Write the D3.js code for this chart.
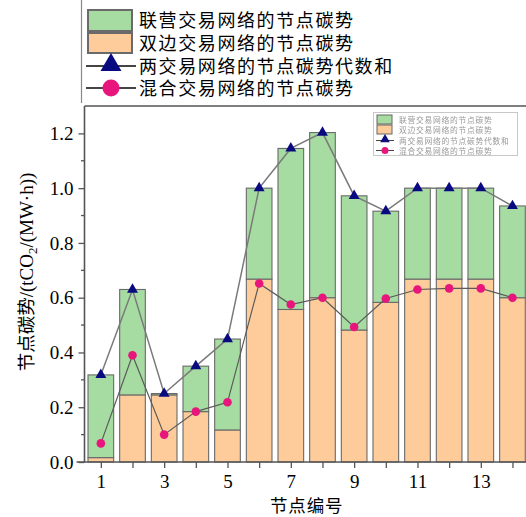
<!DOCTYPE html>
<html>
<head>
<meta charset="utf-8">
<script src="https://cdn.jsdelivr.net/npm/d3@7"></script>
<style>
  body { margin: 0; background: #fff; }
  svg { display: block; }
</style>
</head>
<body>
<svg id="chart" width="526" height="517"></svg>
<script>
// Node numbers on the x axis
const nodes = [1, 2, 3, 4, 5, 6, 7, 8, 9, 10, 11, 12, 13, 14];
// Bilateral-trading network node carbon potential (lower stack)
const bilateral = [0.016, 0.245, 0.245, 0.184, 0.117, 0.668, 0.557, 0.600, 0.482, 0.583, 0.668, 0.668, 0.668, 0.600];
// Pool-trading network node carbon potential (upper stack)
const pool = [0.302, 0.385, 0.005, 0.166, 0.332, 0.332, 0.588, 0.603, 0.490, 0.333, 0.332, 0.332, 0.332, 0.335];
// Mixed-trading network node carbon potential
const mixed = [0.068, 0.390, 0.100, 0.184, 0.218, 0.652, 0.575, 0.600, 0.493, 0.597, 0.630, 0.634, 0.634, 0.600];
// Axis ticks
const yMajorTicks = [0, 0.2, 0.4, 0.6, 0.8, 1.0, 1.2];
const yMinorTicks = [0.1, 0.3, 0.5, 0.7, 0.9, 1.1];
const xTickLabels = [1, 3, 5, 7, 9, 11, 13];
// Legend texts
const legendLabels = [
  "联营交易网络的节点碳势",
  "双边交易网络的节点碳势",
  "两交易网络的节点碳势代数和",
  "混合交易网络的节点碳势"
];

const COLORS = {
  pool: "#a6dca2",
  bilateral: "#fdcc9a",
  barStroke: "#6a6a6a",
  axis: "#555",
  sumLine: "#7a7a7a",
  mixLine: "#5a5a5a",
  tri: "#0a0a80",
  dot: "#e8167c"
};
const FONT = "'Liberation Serif', 'Noto Serif CJK SC', 'Noto Sans CJK SC', serif";
const CJK = "'Noto Sans CJK SC', sans-serif";

// Algebraic sum of the two stacked networks
const total = nodes.map((_, i) => bilateral[i] + pool[i]);

const svg = d3.select("#chart");
const plot = { left: 84.5, right: 528.3, top: 106, bottom: 462 };

const x = d3.scaleLinear().domain([0.5, 14.5]).range([plot.left + 0.5, plot.right]);
const y = d3.scaleLinear().domain([0, 1.3]).range([plot.bottom, plot.top]);
const step = x(2) - x(1);
const bw = step * 0.81;

// Stacked bars
const g = svg.append("g");
g.selectAll("rect.bil").data(nodes).join("rect")
  .attr("class", "bil")
  .attr("x", d => x(d) - bw / 2)
  .attr("width", bw)
  .attr("y", (d, i) => y(bilateral[i]))
  .attr("height", (d, i) => y(0) - y(bilateral[i]))
  .attr("fill", COLORS.bilateral)
  .attr("stroke", COLORS.barStroke)
  .attr("stroke-width", 1.1);

g.selectAll("rect.pool").data(nodes).join("rect")
  .attr("class", "pool")
  .attr("x", d => x(d) - bw / 2)
  .attr("width", bw)
  .attr("y", (d, i) => y(total[i]))
  .attr("height", (d, i) => y(bilateral[i]) - y(total[i]))
  .attr("fill", COLORS.pool)
  .attr("stroke", COLORS.barStroke)
  .attr("stroke-width", 1.1);

// Lines
const lineSum = d3.line().x((d, i) => x(nodes[i])).y(d => y(d));
g.append("path").datum(total)
  .attr("d", lineSum)
  .attr("fill", "none")
  .attr("stroke", COLORS.sumLine)
  .attr("stroke-width", 1.5);
g.append("path").datum(mixed)
  .attr("d", lineSum)
  .attr("fill", "none")
  .attr("stroke", COLORS.mixLine)
  .attr("stroke-width", 1.2);

// Markers
const tri = d3.symbol().type(d3.symbolTriangle).size(52);
g.selectAll("path.tri").data(total).join("path")
  .attr("class", "tri")
  .attr("d", tri)
  .attr("transform", (d, i) => `translate(${x(nodes[i])},${y(d)})`)
  .attr("fill", COLORS.tri);
g.selectAll("circle.dot").data(mixed).join("circle")
  .attr("class", "dot")
  .attr("cx", (d, i) => x(nodes[i]))
  .attr("cy", d => y(d))
  .attr("r", 4.3)
  .attr("fill", COLORS.dot);

// Frame top and right
svg.append("line")
  .attr("x1", plot.left).attr("x2", plot.right)
  .attr("y1", plot.top).attr("y2", plot.top)
  .attr("stroke", COLORS.axis).attr("stroke-width", 1.5);
svg.append("line")
  .attr("x1", plot.right).attr("x2", plot.right)
  .attr("y1", plot.top).attr("y2", plot.bottom)
  .attr("stroke", COLORS.axis).attr("stroke-width", 1.5);

// Y axis with minor ticks
const yAxis = svg.append("g")
  .attr("transform", `translate(${plot.left},0)`)
  .call(d3.axisLeft(y).tickValues(yMajorTicks).tickFormat(d3.format(".1f")).tickSize(6).tickPadding(5));
svg.append("g").selectAll("line").data(yMinorTicks).join("line")
  .attr("x1", plot.left - 3.5).attr("x2", plot.left)
  .attr("y1", d => y(d)).attr("y2", d => y(d))
  .attr("stroke", COLORS.axis).attr("stroke-width", 1.3);

// X axis
const xAxis = svg.append("g")
  .attr("transform", `translate(0,${plot.bottom})`)
  .call(d3.axisBottom(x).tickValues(nodes)
    .tickFormat(d => xTickLabels.includes(d) ? d : "")
    .tickSize(6).tickPadding(7));

[yAxis, xAxis].forEach(ax => {
  ax.select(".domain").attr("stroke", COLORS.axis).attr("stroke-width", 1.6);
  ax.selectAll(".tick line").attr("stroke", COLORS.axis).attr("stroke-width", 1.3);
  ax.selectAll(".tick text")
    .attr("fill", "#000")
    .style("font-family", FONT)
    .style("font-size", "19px");
});
xAxis.select(".domain").attr("d", `M${plot.left - 8},0H${plot.right}`);
yAxis.select(".domain").attr("d", `M0,${plot.top}V${plot.bottom}`);

// Axis titles
svg.append("text")
  .attr("x", x(7.5))
  .attr("y", 512)
  .attr("text-anchor", "middle")
  .style("font-family", CJK)
  .style("font-size", "17.5px")
  .style("letter-spacing", "0.8px")
  .text("节点编号");

const yt = svg.append("text")
  .attr("transform", `translate(33,272) rotate(-90)`)
  .attr("text-anchor", "middle")
  .style("font-family", FONT)
  .style("font-size", "19px");
yt.append("tspan").style("font-family", CJK).style("font-size", "18.5px").text("节点碳势");
yt.append("tspan").text("/(tCO");
yt.append("tspan").attr("dy", 4).style("font-size", "13px").text("2");
yt.append("tspan").attr("dy", -4).text("/(MW·h))");

// Outer legend
const lg = svg.append("g");
lg.append("line")
  .attr("x1", 81.5).attr("x2", 81.5).attr("y1", 0).attr("y2", 103)
  .attr("stroke", "#888").attr("stroke-width", 1.2);
const rowY = [20, 43, 66, 88];
lg.append("rect").attr("x", 88).attr("y", 10).attr("width", 44).attr("height", 21)
  .attr("fill", COLORS.pool).attr("stroke", COLORS.barStroke).attr("stroke-width", 2);
lg.append("rect").attr("x", 88).attr("y", 33).attr("width", 44).attr("height", 20)
  .attr("fill", COLORS.bilateral).attr("stroke", COLORS.barStroke).attr("stroke-width", 2);
lg.append("line").attr("x1", 86).attr("x2", 136).attr("y1", rowY[2]).attr("y2", rowY[2])
  .attr("stroke", "#444").attr("stroke-width", 1.8);
lg.append("path").attr("d", d3.symbol().type(d3.symbolTriangle).size(190))
  .attr("transform", `translate(111,${rowY[2] - 1})`).attr("fill", COLORS.tri);
lg.append("line").attr("x1", 86).attr("x2", 136).attr("y1", rowY[3]).attr("y2", rowY[3])
  .attr("stroke", "#444").attr("stroke-width", 1.8);
lg.append("circle").attr("cx", 111).attr("cy", rowY[3]).attr("r", 8.5).attr("fill", COLORS.dot);
lg.selectAll("text").data(legendLabels).join("text")
  .attr("x", 139)
  .attr("y", (d, i) => rowY[i] + 6.5)
  .style("font-family", CJK)
  .style("font-size", "18px")
  .style("letter-spacing", "1.6px")
  .text(d => d);

// Inner (small) legend, slightly soft
const defs = svg.append("defs");
defs.append("filter").attr("id", "soft")
  .append("feGaussianBlur").attr("stdDeviation", 0.55);
const il = svg.append("g").attr("filter", "url(#soft)");
il.append("rect").attr("x", 373.5).attr("y", 112.5).attr("width", 144).attr("height", 43)
  .attr("fill", "#fff").attr("stroke", "#c8c8c8").attr("stroke-width", 1);
const iy = [120, 130, 140.5, 150.5];
il.append("rect").attr("x", 377).attr("y", 115).attr("width", 15).attr("height", 9)
  .attr("fill", COLORS.pool).attr("stroke", "#666").attr("stroke-width", 1);
il.append("rect").attr("x", 377).attr("y", 125).attr("width", 15).attr("height", 9)
  .attr("fill", COLORS.bilateral).attr("stroke", "#666").attr("stroke-width", 1);
il.append("line").attr("x1", 376).attr("x2", 394).attr("y1", iy[2]).attr("y2", iy[2])
  .attr("stroke", "#444").attr("stroke-width", 1);
il.append("path").attr("d", d3.symbol().type(d3.symbolTriangle).size(40))
  .attr("transform", `translate(385,${iy[2] - 1})`).attr("fill", COLORS.tri);
il.append("line").attr("x1", 376).attr("x2", 394).attr("y1", iy[3]).attr("y2", iy[3])
  .attr("stroke", "#444").attr("stroke-width", 1);
il.append("circle").attr("cx", 385).attr("cy", iy[3]).attr("r", 3.5).attr("fill", COLORS.dot);
il.selectAll("text").data(legendLabels).join("text")
  .attr("x", 399)
  .attr("y", (d, i) => iy[i] + 3)
  .attr("fill", "#999")
  .style("font-family", CJK)
  .style("font-size", "7.8px")
  .style("letter-spacing", "0.7px")
  .text(d => d);
</script>
</body>
</html>
